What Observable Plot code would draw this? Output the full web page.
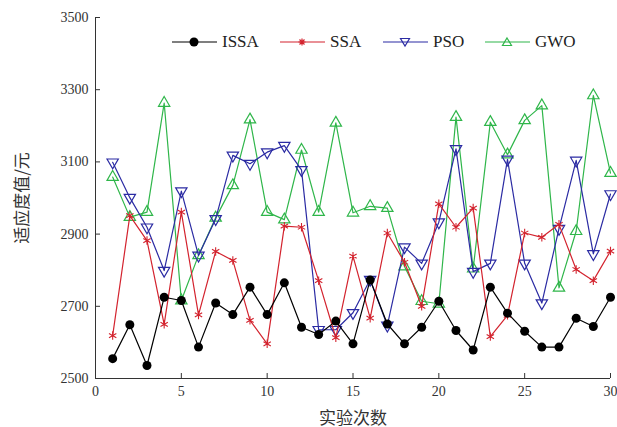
<!DOCTYPE html>
<html>
<head>
<meta charset="utf-8">
<script src="https://cdn.jsdelivr.net/npm/d3@7"></script>
<script src="https://cdn.jsdelivr.net/npm/@observablehq/plot@0.6"></script>
<style>
  html, body { margin: 0; padding: 0; background: #fff; }
  #wrap { position: relative; width: 617px; height: 427px; }
  .leg { position: absolute; top: 32px; display: flex; align-items: center; font-family: "Liberation Serif", "DejaVu Serif", serif; font-size: 17px; color: #222; }
  .leg svg { margin-right: 5px; }
</style>
</head>
<body>
<div id="wrap"></div>
<script>
const runs = d3.range(1, 31);
const issa = [2555,2649,2536,2725,2716,2587,2709,2677,2753,2677,2765,2642,2622,2659,2596,2773,2651,2596,2642,2714,2633,2579,2753,2681,2631,2587,2587,2667,2644,2725];
const ssa  = [2619,2951,2882,2650,2961,2676,2852,2827,2661,2596,2922,2919,2771,2613,2839,2667,2903,2822,2700,2984,2919,2972,2616,2675,2903,2891,2927,2802,2771,2853];
const pso  = [3099,3001,2919,2799,3019,2841,2942,3118,3095,3127,3145,3078,2635,2635,2682,2774,2647,2864,2819,2933,3136,2796,2819,3107,2819,2709,2915,3104,2845,3011];
const gwo  = [3058,2947,2961,3263,2716,2841,2945,3035,3217,2961,2940,3133,2961,3208,2959,2977,2972,2810,2714,2707,3224,2804,3210,3120,3215,3256,2751,2908,3284,3069];
const seriesNames = ["ISSA", "SSA", "PSO", "GWO"];
const xTicks = [0, 5, 10, 15, 20, 25, 30];
const yTicks = [2500, 2700, 2900, 3100, 3300, 3500];

const colors = {ISSA: "#000000", SSA: "#d3232e", PSO: "#2b2ba3", GWO: "#2fb64a"};
const values = {ISSA: issa, SSA: ssa, PSO: pso, GWO: gwo};
const data = seriesNames.flatMap(s => runs.map((r, i) => ({series: s, run: r, value: values[s][i]})));
const sub = s => data.filter(d => d.series === s);

const serif = "'Liberation Serif', 'DejaVu Serif', serif";
const cjk = "'Noto Sans CJK SC', sans-serif";

const chart = Plot.plot({
  width: 617,
  height: 427,
  marginLeft: 95,
  marginRight: 7,
  marginTop: 17,
  marginBottom: 49,
  style: {fontFamily: serif, fontSize: "14px", color: "#333", background: "#fff"},
  x: {domain: [0, 30]},
  y: {domain: [2500, 3500]},
  marks: [
    Plot.axisX({ticks: xTicks, tickFormat: "d", tickSize: -5, tickPadding: 13, label: null, fontSize: 14}),
    Plot.axisY({ticks: yTicks, tickFormat: "d", tickSize: -5, tickPadding: 12, label: null, fontSize: 14}),
    Plot.axisX({ticks: [], label: "实验次数", labelAnchor: "center", labelArrow: "none", labelOffset: 45, fontFamily: cjk, fontSize: 17}),
    Plot.axisY({ticks: [], label: "适应度值/元", labelAnchor: "center", labelArrow: "none", labelOffset: 80, fontFamily: cjk, fontSize: 17}),
    Plot.ruleY([2500], {stroke: "#333"}),
    Plot.ruleX([0], {stroke: "#333"}),
    Plot.line(sub("GWO"), {x: "run", y: "value", stroke: colors.GWO, strokeWidth: 1.2}),
    Plot.dot(sub("GWO"), {x: "run", y: "value", symbol: "triangle", r: 4.2, stroke: colors.GWO, fill: "none", strokeWidth: 1.2}),
    Plot.line(sub("PSO"), {x: "run", y: "value", stroke: colors.PSO, strokeWidth: 1.2}),
    Plot.dot(sub("PSO"), {x: "run", y: "value", symbol: "triangle", rotate: 180, r: 4.2, stroke: colors.PSO, fill: "none", strokeWidth: 1.2}),
    Plot.line(sub("SSA"), {x: "run", y: "value", stroke: colors.SSA, strokeWidth: 1.2}),
    Plot.dot(sub("SSA"), {x: "run", y: "value", symbol: "asterisk", r: 4, stroke: colors.SSA, strokeWidth: 1.1}),
    Plot.line(sub("ISSA"), {x: "run", y: "value", stroke: colors.ISSA, strokeWidth: 1.2}),
    Plot.dot(sub("ISSA"), {x: "run", y: "value", r: 4.5, fill: colors.ISSA, stroke: "none"})
  ]
});

const wrap = document.getElementById("wrap");
wrap.appendChild(chart);

// legend overlay
const legLeft = {ISSA: 172, SSA: 280, PSO: 383, GWO: 485};
const markerSvg = {
  ISSA: c => `<circle cx="22" cy="7" r="4.5" fill="${c}"/>`,
  SSA: c => `<path d="M22,3.5V10.5M18.5,7H25.5M19.5,4.5L24.5,9.5M24.5,4.5L19.5,9.5" stroke="${c}" stroke-width="1.2"/>`,
  PSO: c => `<path d="M17.5,3.5H26.5L22,11Z" fill="none" stroke="${c}" stroke-width="1.2"/>`,
  GWO: c => `<path d="M22,3L26.5,10.5H17.5Z" fill="none" stroke="${c}" stroke-width="1.2"/>`
};
for (const s of seriesNames) {
  const div = document.createElement("div");
  div.className = "leg";
  div.style.left = legLeft[s] + "px";
  div.innerHTML = `<svg width="45" height="14"><line x1="0" y1="7" x2="45" y2="7" stroke="${colors[s]}" stroke-width="1.2"/>${markerSvg[s](colors[s])}</svg><span>${s}</span>`;
  wrap.appendChild(div);
}
</script>
</body>
</html>
